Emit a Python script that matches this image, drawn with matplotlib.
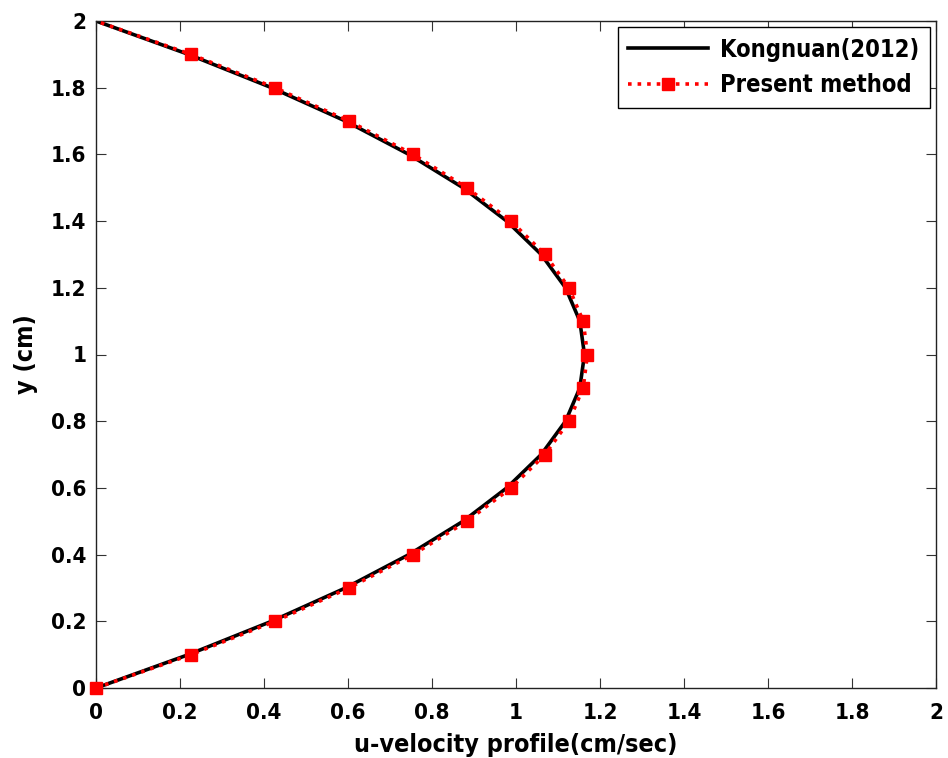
import matplotlib
matplotlib.use("Agg")
from matplotlib import pyplot as plt

# channel height positions (cm)
y_pos = [0.0, 0.1, 0.2, 0.3, 0.4, 0.5, 0.6, 0.7, 0.8, 0.9, 1.0,
         1.1, 1.2, 1.3, 1.4, 1.5, 1.6, 1.7, 1.8, 1.9, 2.0]

# reference solution, Kongnuan (2012)
u_kongnuan = [0.0, 0.220, 0.418, 0.594, 0.745, 0.874, 0.978, 1.060, 1.118, 1.152, 1.163,
              1.152, 1.118, 1.060, 0.978, 0.874, 0.745, 0.594, 0.418, 0.220, 0.0]

# present method
u_present = [0.0, 0.226, 0.426, 0.602, 0.755, 0.883, 0.988, 1.069, 1.126, 1.160, 1.170,
             1.160, 1.126, 1.069, 0.988, 0.883, 0.755, 0.602, 0.426, 0.226, 0.0]

tick_vals = [0, 0.2, 0.4, 0.6, 0.8, 1, 1.2, 1.4, 1.6, 1.8, 2]
tick_labels = ['0', '0.2', '0.4', '0.6', '0.8', '1', '1.2', '1.4', '1.6', '1.8', '2']

plt.rcParams['font.family'] = ['DejaVu Sans']
plt.rcParams['font.weight'] = 'bold'
plt.rcParams['font.stretch'] = 'condensed'

fig = plt.figure(figsize=(9.48, 7.58), dpi=100)
ax = fig.add_axes([96 / 948, 70 / 758, 840 / 948, 667 / 758])

ax.plot(u_kongnuan, y_pos, color='black', lw=2.6, label='Kongnuan(2012)', zorder=2)
ax.plot(u_present, y_pos, color='red', lw=2.6, ls=':', marker='s', ms=9,
        markevery=slice(0, len(y_pos) - 1), label='Present method', zorder=3,
        clip_on=False)

ax.set_xlim(0, 2)
ax.set_ylim(0, 2)
ax.set_xticks(tick_vals)
ax.set_yticks(tick_vals)
ax.set_xticklabels(tick_labels)
ax.set_yticklabels(tick_labels)
ax.tick_params(direction='in', top=True, right=True, length=7, width=0.8,
               color='#333333', labelsize=16)
ax.tick_params(axis='x', pad=11)
ax.tick_params(axis='y', pad=7)
for sp in ax.spines.values():
    sp.set_linewidth(1.0)
    sp.set_color('#222222')

ax.set_xlabel('u-velocity profile(cm/sec)', fontsize=18, fontweight='bold', labelpad=7)
ax.set_ylabel('y (cm)', fontsize=18, fontweight='bold', labelpad=9)

leg = ax.legend(loc='upper right', fontsize=17, fancybox=False, framealpha=1,
                edgecolor='black', handlelength=3.4, handletextpad=0.5,
                borderaxespad=0.25, borderpad=0.45)
leg.get_frame().set_linewidth(1.0)

fig.savefig('out.png', dpi=100)
